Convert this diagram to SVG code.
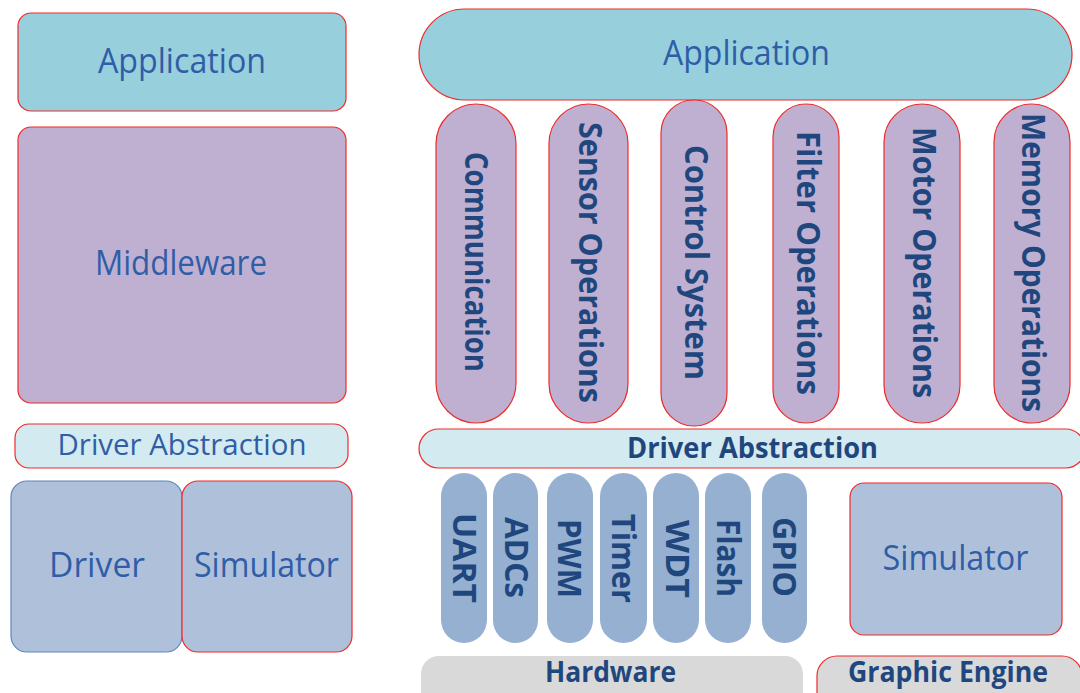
<svg xmlns="http://www.w3.org/2000/svg" width="1080" height="693" viewBox="0 0 1080 693">
  <style>
    .t { font-family: "Open Sans", "DejaVu Sans", sans-serif; fill: #2F5DA6; text-anchor: middle; }
    .b { font-family: "Open Sans", "DejaVu Sans", sans-serif; font-weight: bold; fill: #1F477E; text-anchor: middle; }
    .red { stroke: #EE2A2A; stroke-width: 1.2; }
    .app { fill: #97CFDD; }
    .mid { fill: #BFB0D2; }
    .abs { fill: #D3EAF0; }
    .drv { fill: #AFC1DA; }
    .per { fill: #95B0D0; }
    .hw { fill: #D9D9D9; }
  </style>
  <rect width="1080" height="693" fill="#FFFFFF"/>

  <!-- Left stack -->
  <g id="left-application">
    <rect class="app red" x="18" y="13" width="328" height="98" rx="13"/>
    <text class="t" x="182" y="73" font-size="34" textLength="168" lengthAdjust="spacingAndGlyphs">Application</text>
  </g>
  <g id="left-middleware">
    <rect class="mid red" x="18" y="127" width="328" height="276" rx="13"/>
    <text class="t" x="181" y="275" font-size="34" textLength="172" lengthAdjust="spacingAndGlyphs">Middleware</text>
  </g>
  <g id="left-driver-abstraction">
    <rect class="abs red" x="15" y="424" width="333" height="44" rx="14"/>
    <text class="t" x="182" y="455" font-size="29" textLength="249" lengthAdjust="spacingAndGlyphs">Driver Abstraction</text>
  </g>
  <g id="left-driver">
    <rect class="drv" x="11" y="481" width="171" height="171" rx="16" stroke="#5F86C0" stroke-width="1.2"/>
    <text class="t" x="97" y="577" font-size="34" textLength="96" lengthAdjust="spacingAndGlyphs">Driver</text>
  </g>
  <g id="left-simulator">
    <rect class="drv red" x="182" y="481" width="170" height="171" rx="16"/>
    <text class="t" x="266.5" y="577" font-size="34" textLength="145" lengthAdjust="spacingAndGlyphs">Simulator</text>
  </g>

  <!-- Right stack -->
  <g id="right-application">
    <rect class="app red" x="419" y="9" width="653" height="91" rx="45.5"/>
    <text class="t" x="746.5" y="65" font-size="34" textLength="167" lengthAdjust="spacingAndGlyphs">Application</text>
  </g>

  <g id="communication">
    <rect class="mid red" x="436" y="104" width="80" height="319" rx="40"/>
    <text class="b" transform="translate(465 262) rotate(90)" font-size="32" textLength="220" lengthAdjust="spacingAndGlyphs">Communication</text>
  </g>
  <g id="sensor-operations">
    <rect class="mid red" x="549" y="104" width="79" height="319" rx="39.5"/>
    <text class="b" transform="translate(579 262.5) rotate(90)" font-size="32" textLength="281" lengthAdjust="spacingAndGlyphs">Sensor Operations</text>
  </g>
  <g id="control-system">
    <rect class="mid red" x="661" y="100" width="66" height="326" rx="33"/>
    <text class="b" transform="translate(685 262.5) rotate(90)" font-size="32" textLength="235" lengthAdjust="spacingAndGlyphs">Control System</text>
  </g>
  <g id="filter-operations">
    <rect class="mid red" x="773" y="104" width="66" height="319" rx="33"/>
    <text class="b" transform="translate(797 263) rotate(90)" font-size="32" textLength="264" lengthAdjust="spacingAndGlyphs">Filter Operations</text>
  </g>
  <g id="motor-operations">
    <rect class="mid red" x="884" y="104" width="76" height="319" rx="38"/>
    <text class="b" transform="translate(913 262.5) rotate(90)" font-size="32" textLength="271" lengthAdjust="spacingAndGlyphs">Motor Operations</text>
  </g>
  <g id="memory-operations">
    <rect class="mid red" x="994" y="104" width="76" height="319" rx="38"/>
    <text class="b" transform="translate(1022 262.5) rotate(90)" font-size="32" textLength="299" lengthAdjust="spacingAndGlyphs">Memory Operations</text>
  </g>

  <g id="right-driver-abstraction">
    <rect class="abs red" x="419" y="429" width="666" height="39" rx="19.5"/>
    <text class="b" x="752.5" y="458" font-size="29" textLength="251" lengthAdjust="spacingAndGlyphs">Driver Abstraction</text>
  </g>

  <!-- Peripheral drivers -->
  <g id="uart">
    <rect class="per" x="441" y="473" width="46" height="170" rx="23"/>
    <text class="b" transform="translate(453 558) rotate(90)" font-size="32" textLength="90" lengthAdjust="spacingAndGlyphs">UART</text>
  </g>
  <g id="adcs">
    <rect class="per" x="493" y="473" width="45" height="170" rx="22.5"/>
    <text class="b" transform="translate(505 557.5) rotate(90)" font-size="32" textLength="81" lengthAdjust="spacingAndGlyphs">ADCs</text>
  </g>
  <g id="pwm">
    <rect class="per" x="547" y="473" width="46" height="170" rx="23"/>
    <text class="b" transform="translate(558 558.5) rotate(90)" font-size="32" textLength="79" lengthAdjust="spacingAndGlyphs">PWM</text>
  </g>
  <g id="timer">
    <rect class="per" x="600" y="473" width="47" height="170" rx="23.5"/>
    <text class="b" transform="translate(612 558.5) rotate(90)" font-size="32" textLength="89" lengthAdjust="spacingAndGlyphs">Timer</text>
  </g>
  <g id="wdt">
    <rect class="per" x="653" y="473" width="46" height="170" rx="23"/>
    <text class="b" transform="translate(666 559) rotate(90)" font-size="32" textLength="78" lengthAdjust="spacingAndGlyphs">WDT</text>
  </g>
  <g id="flash">
    <rect class="per" x="705" y="473" width="46" height="170" rx="23"/>
    <text class="b" transform="translate(717 558) rotate(90)" font-size="32" textLength="78" lengthAdjust="spacingAndGlyphs">Flash</text>
  </g>
  <g id="gpio">
    <rect class="per" x="762" y="473" width="45" height="170" rx="22.5"/>
    <text class="b" transform="translate(773 557) rotate(90)" font-size="32" textLength="80" lengthAdjust="spacingAndGlyphs">GPIO</text>
  </g>

  <g id="right-simulator">
    <rect class="drv red" x="850" y="483" width="212" height="152" rx="14"/>
    <text class="t" x="955.5" y="570" font-size="34" textLength="146" lengthAdjust="spacingAndGlyphs">Simulator</text>
  </g>

  <g id="hardware">
    <rect class="hw" x="421" y="656" width="382" height="60" rx="18"/>
    <text class="b" x="610.5" y="682" font-size="28" textLength="131" lengthAdjust="spacingAndGlyphs">Hardware</text>
  </g>
  <g id="graphic-engine">
    <rect class="hw red" x="817" y="656" width="265" height="60" rx="20"/>
    <text class="b" x="948" y="682" font-size="28" textLength="200" lengthAdjust="spacingAndGlyphs">Graphic Engine</text>
  </g>

  <!-- Layers are stacked without connectors -->
  <g id="connectors"/>
</svg>
